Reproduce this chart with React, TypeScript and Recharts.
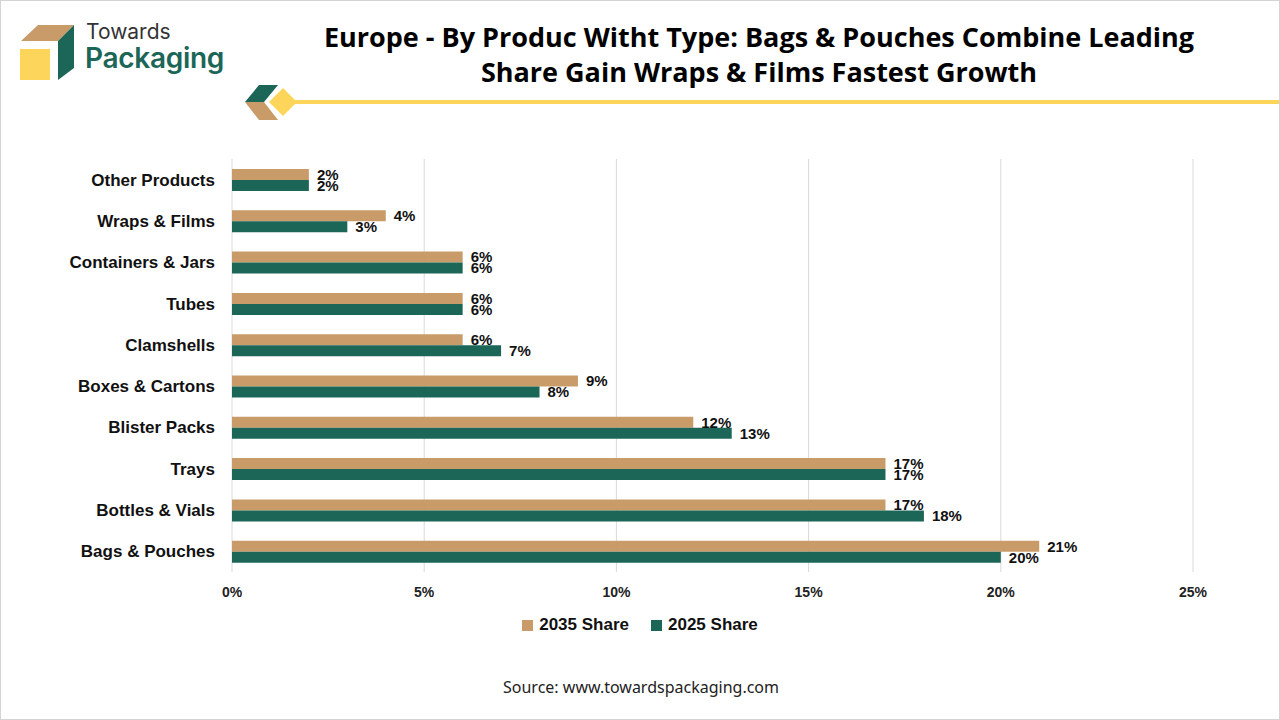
import React from 'react';
import {
  BarChart,
  Bar,
  XAxis,
  YAxis,
  CartesianGrid,
  Legend,
  LabelList,
} from 'recharts';

const CATEGORIES = [
  'Other Products',
  'Wraps & Films',
  'Containers & Jars',
  'Tubes',
  'Clamshells',
  'Boxes & Cartons',
  'Blister Packs',
  'Trays',
  'Bottles & Vials',
  'Bags & Pouches',
];
const SHARE_2035 = [2, 4, 6, 6, 6, 9, 12, 17, 17, 21];
const SHARE_2025 = [2, 3, 6, 6, 7, 8, 13, 17, 18, 20];
const X_TICKS = [0, 5, 10, 15, 20, 25];

const BROWN = '#C89B68';
const GREEN = '#1B6657';
const YELLOW = '#FCD55A';
const LABEL_FONT = '"Liberation Sans", Arial, sans-serif';

const chartData = CATEGORIES.map((name, i) => ({
  name,
  s2035: SHARE_2035[i],
  s2025: SHARE_2025[i],
}));

const LegendContent = () => (
  <div
    style={{
      height: 20,
      display: 'flex',
      justifyContent: 'center',
      alignItems: 'center',
      gap: 22,
      fontFamily: LABEL_FONT,
      fontWeight: 700,
      fontSize: 17,
      color: '#111',
    }}
  >
    {[
      { label: '2035 Share', color: BROWN },
      { label: '2025 Share', color: GREEN },
    ].map((item) => (
      <span key={item.label} style={{ display: 'flex', alignItems: 'center' }}>
        <span style={{ width: 11, height: 11, background: item.color, marginRight: 6 }} />
        {item.label}
      </span>
    ))}
  </div>
);

function Logo() {
  return (
    <div style={{ position: 'absolute', left: 0, top: 0 }}>
      <svg width={90} height={90} style={{ position: 'absolute', left: 0, top: 0 }}>
        <polygon points="20,40 37,24 73,24 57,40" fill={BROWN} />
        <rect x={19} y={48} width={30} height={31} fill={YELLOW} />
        <polygon points="57,40 73,24 73,67 57,79" fill={GREEN} />
      </svg>
      <div
        style={{
          position: 'absolute',
          left: 85,
          top: 18,
          fontFamily: 'Inter, sans-serif',
          fontSize: 21,
          color: '#333',
          lineHeight: '26px',
        }}
      >
        Towards
      </div>
      <div
        style={{
          position: 'absolute',
          left: 84,
          top: 40,
          fontFamily: 'Inter, sans-serif',
          fontWeight: 600,
          fontSize: 28,
          color: GREEN,
          lineHeight: '34px',
          letterSpacing: -0.3,
        }}
      >
        Packaging
      </div>
    </div>
  );
}

export default function App() {
  return (
    <div
      style={{
        position: 'fixed',
        left: 0,
        top: 0,
        width: 1280,
        height: 720,
        background: '#fff',
        border: '1px solid #d4d4d4',
        boxSizing: 'border-box',
        overflow: 'hidden',
      }}
    >
      <Logo />
      <div
        style={{
          position: 'absolute',
          left: 240,
          width: 1036,
          top: 18,
          textAlign: 'center',
          fontFamily: '"Open Sans", sans-serif',
          fontWeight: 700,
          fontSize: 27,
          lineHeight: '35px',
          color: '#000',
        }}
      >
        Europe - By Produc Witht Type: Bags &amp; Pouches Combine Leading
        <br />
        Share Gain Wraps &amp; Films Fastest Growth
      </div>
      <svg width={1280} height={130} style={{ position: 'absolute', left: 0, top: 0 }}>
        <polygon points="244,101 258,84 277,84 263,101" fill={GREEN} />
        <polygon points="244,101 263,101 277,119 258,119" fill={BROWN} />
        <rect x={288} y={99} width={992} height={4} fill={YELLOW} />
        <polygon points="282,87 296,101 282,115 268,101" fill={YELLOW} />
      </svg>

      <div style={{ position: 'absolute', left: 0, top: 0 }}>
        <BarChart
          width={1278}
          height={718}
          data={chartData}
          layout="vertical"
          margin={{ top: 158, right: 86, left: 0, bottom: 97 }}
          barGap={0}
          barSize={11}
        >
          <CartesianGrid horizontal={false} stroke="#d9d9d9" />
          <XAxis
            type="number"
            domain={[0, 25]}
            ticks={X_TICKS}
            tickFormatter={(v: number) => `${v}%`}
            axisLine={false}
            tickLine={false}
            tickMargin={9}
            height={30}
            tick={{ fontSize: 14, fontWeight: 700, fill: '#222', fontFamily: LABEL_FONT }}
          />
          <YAxis
            type="category"
            dataKey="name"
            width={231}
            axisLine={false}
            tickLine={false}
            tickSize={0}
            tickMargin={17}
            tick={{ fontSize: 17, fontWeight: 700, fill: '#111', fontFamily: LABEL_FONT }}
          />
          <Legend
            verticalAlign="bottom"
            content={<LegendContent />}
            wrapperStyle={{ top: 614, left: 0, width: 1278 }}
          />
          <Bar dataKey="s2035" name="2035 Share" fill={BROWN} isAnimationActive={false}>
            <LabelList
              dataKey="s2035"
              position="right"
              offset={8}
              formatter={(v: number) => `${v}%`}
              style={{ fontSize: 15, fontWeight: 700, fill: '#111', fontFamily: LABEL_FONT }}
            />
          </Bar>
          <Bar dataKey="s2025" name="2025 Share" fill={GREEN} isAnimationActive={false}>
            <LabelList
              dataKey="s2025"
              position="right"
              offset={8}
              formatter={(v: number) => `${v}%`}
              style={{ fontSize: 15, fontWeight: 700, fill: '#111', fontFamily: LABEL_FONT }}
            />
          </Bar>
        </BarChart>
      </div>

      <div
        style={{
          position: 'absolute',
          left: 0,
          width: 1280,
          top: 675,
          textAlign: 'center',
          fontFamily: '"Noto Sans", sans-serif',
          fontSize: 16,
          color: '#222',
        }}
      >
        Source: www.towardspackaging.com
      </div>
    </div>
  );
}
